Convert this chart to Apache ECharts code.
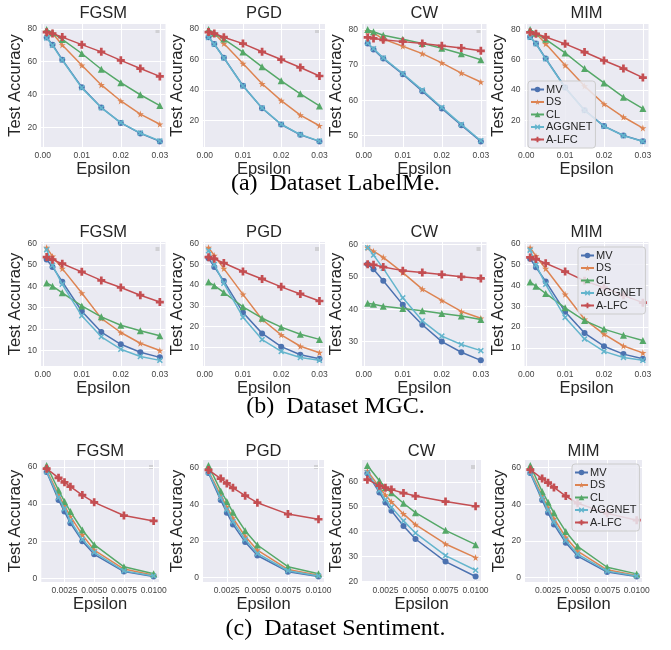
<!DOCTYPE html>
<html>
<head>
<meta charset="utf-8">
<script src="https://cdn.jsdelivr.net/npm/echarts@6/dist/echarts.min.js"></script>
<style>
html,body{margin:0;padding:0;background:#fff;}
#chart{width:671px;height:650px;}
</style>
</head>
<body>
<div id="chart"></div>
<script>
// ---------------- DATA ----------------
const METHODS = ['MV', 'DS', 'CL', 'AGGNET', 'A-LFC'];
const ATTACKS = ['FGSM', 'PGD', 'CW', 'MIM'];
const CAPTIONS = ['(a)  Dataset LabelMe.', '(b)  Dataset MGC.', '(c)  Dataset Sentiment.'];

const EPS_LM = [0.001, 0.0025, 0.005, 0.01, 0.015, 0.02, 0.025, 0.03];   // LabelMe & MGC
const EPS_SENT = [0.001, 0.002, 0.0025, 0.003, 0.004, 0.005, 0.0075, 0.01]; // Sentiment

const X_TICKS_LM = [0, 0.01, 0.02, 0.03];
const X_TICKS_SENT = [0.0025, 0.005, 0.0075, 0.01];

// LabelMe
const LM_FGSM_MV = [74.8, 70.4, 61.2, 44.4, 32.0, 22.6, 16.2, 11.3];
const LM_FGSM_DS = [78.5, 77.4, 70.2, 57.8, 45.8, 36.0, 28.0, 21.8];
const LM_FGSM_CL = [79.6, 77.6, 73.6, 65.0, 55.4, 47.2, 39.8, 33.2];
const LM_FGSM_AGG = [74.5, 70.0, 61.0, 44.0, 31.8, 22.8, 16.4, 11.6];
const LM_FGSM_ALFC = [78.0, 77.2, 75.0, 70.4, 66.0, 60.8, 55.8, 51.0];

const LM_PGD_MV = [74.6, 70.1, 61.1, 42.7, 27.9, 17.2, 10.4, 6.1];
const LM_PGD_DS = [78.0, 77.2, 70.4, 57.3, 44.0, 32.9, 23.4, 16.4];
const LM_PGD_CL = [79.6, 77.2, 73.4, 64.8, 55.1, 45.9, 37.4, 29.4];
const LM_PGD_AGG = [74.4, 70.0, 61.0, 42.5, 28.1, 17.4, 10.6, 6.3];
const LM_PGD_ALFC = [78.0, 77.0, 74.6, 70.4, 65.0, 59.9, 54.7, 49.1];

const LM_CW_MV = [76.1, 74.4, 71.8, 67.4, 62.6, 57.7, 53.0, 48.4];
const LM_CW_DS = [79.6, 79.1, 77.3, 75.3, 73.2, 70.6, 67.7, 65.2];
const LM_CW_CL = [80.0, 79.4, 78.4, 77.3, 76.1, 74.7, 73.2, 71.5];
const LM_CW_AGG = [76.2, 74.6, 72.0, 67.6, 62.9, 58.0, 53.2, 48.6];
const LM_CW_ALFC = [77.8, 77.5, 77.1, 76.6, 76.1, 75.4, 74.8, 74.0];

const LM_MIM_MV = [74.9, 70.6, 60.7, 41.6, 26.6, 16.1, 9.9, 6.1];
const LM_MIM_DS = [78.0, 77.2, 70.4, 56.2, 42.5, 30.7, 22.1, 14.8];
const LM_MIM_CL = [79.8, 77.4, 73.4, 64.4, 54.1, 44.6, 35.2, 27.7];
const LM_MIM_AGG = [74.7, 70.4, 60.5, 41.4, 26.4, 16.0, 9.8, 6.0];
const LM_MIM_ALFC = [78.0, 77.0, 74.9, 70.4, 65.0, 59.4, 54.1, 48.1];

// MGC
const MGC_FGSM_MV = [52.5, 49.0, 42.1, 28.3, 18.6, 12.9, 9.2, 6.8];
const MGC_FGSM_DS = [58.0, 53.9, 48.2, 36.8, 25.0, 18.4, 13.4, 10.0];
const MGC_FGSM_CL = [41.5, 40.0, 36.9, 30.8, 25.7, 21.8, 19.2, 16.9];
const MGC_FGSM_AGG = [57.0, 49.8, 40.9, 26.2, 16.4, 10.6, 7.2, 5.4];
const MGC_FGSM_ALFC = [53.6, 52.4, 50.5, 46.7, 42.7, 39.4, 35.8, 32.6];

const MGC_PGD_MV = [52.9, 48.7, 41.9, 26.8, 16.7, 10.3, 6.4, 4.5];
const MGC_PGD_DS = [58.0, 54.2, 47.9, 35.5, 23.4, 16.0, 10.5, 7.4];
const MGC_PGD_CL = [41.4, 39.7, 36.4, 29.5, 24.0, 19.7, 16.3, 13.8];
const MGC_PGD_AGG = [56.5, 49.9, 40.8, 24.5, 13.7, 8.0, 5.1, 3.7];
const MGC_PGD_ALFC = [53.4, 52.6, 50.6, 46.5, 42.9, 39.1, 35.7, 32.3];

const MGC_CW_MV = [53.9, 52.3, 48.8, 41.4, 35.2, 30.0, 26.7, 24.2];
const MGC_CW_DS = [59.0, 57.9, 56.0, 51.3, 46.2, 42.7, 39.3, 37.2];
const MGC_CW_CL = [41.8, 41.5, 40.9, 40.2, 39.5, 38.7, 37.9, 36.8];
const MGC_CW_AGG = [59.0, 56.7, 52.6, 43.5, 36.4, 31.7, 29.1, 27.2];
const MGC_CW_ALFC = [53.9, 53.7, 53.0, 51.9, 51.3, 50.7, 50.0, 49.5];

const MGC_MIM_MV = [52.8, 48.7, 41.9, 27.3, 17.1, 10.8, 7.0, 4.8];
const MGC_MIM_DS = [58.1, 54.0, 48.0, 35.7, 23.7, 16.6, 10.9, 7.6];
const MGC_MIM_CL = [41.6, 39.6, 36.1, 29.2, 23.1, 19.0, 16.1, 13.5];
const MGC_MIM_AGG = [56.9, 49.8, 40.5, 24.6, 14.3, 8.3, 5.4, 4.0];
const MGC_MIM_ALFC = [53.4, 52.6, 50.6, 46.6, 42.2, 38.9, 35.2, 31.7];

// Sentiment
const SENT_FGSM_MV = [57.2, 42.2, 35.9, 29.7, 20.0, 12.9, 3.6, 1.0];
const SENT_FGSM_DS = [58.1, 45.0, 39.0, 33.3, 23.4, 15.2, 5.0, 1.7];
const SENT_FGSM_CL = [60.7, 47.4, 41.4, 35.9, 26.0, 18.1, 6.2, 2.4];
const SENT_FGSM_AGG = [57.5, 43.5, 37.5, 31.0, 21.0, 14.0, 4.0, 1.3];
const SENT_FGSM_ALFC = [59.0, 54.1, 51.7, 49.3, 44.8, 40.9, 33.8, 30.9];

const SENT_PGD_MV = [56.9, 42.2, 35.4, 29.0, 19.4, 12.1, 3.3, 0.7];
const SENT_PGD_DS = [58.0, 44.8, 38.5, 32.5, 22.5, 15.0, 4.5, 1.3];
const SENT_PGD_CL = [61.0, 47.2, 41.5, 35.6, 25.6, 17.8, 6.0, 2.2];
const SENT_PGD_AGG = [57.3, 43.5, 37.0, 30.5, 20.8, 13.2, 3.8, 1.0];
const SENT_PGD_ALFC = [58.6, 53.9, 51.3, 48.9, 44.6, 40.8, 34.6, 31.8];

const SENT_CW_MV = [63.5, 55.7, 51.7, 48.4, 42.2, 37.0, 27.9, 21.9];
const SENT_CW_DS = [64.4, 57.9, 54.7, 52.0, 47.1, 42.8, 35.0, 29.5];
const SENT_CW_CL = [66.6, 60.5, 57.8, 55.6, 51.4, 47.6, 40.5, 34.7];
const SENT_CW_AGG = [63.7, 56.6, 52.8, 49.8, 44.3, 39.4, 30.3, 24.4];
const SENT_CW_ALFC = [60.9, 58.5, 57.7, 56.9, 55.5, 54.3, 52.1, 50.2];

const SENT_MIM_MV = [56.9, 42.2, 35.3, 29.0, 19.0, 11.8, 3.1, 0.7];
const SENT_MIM_DS = [58.0, 44.5, 38.2, 32.2, 22.0, 14.5, 4.3, 1.2];
const SENT_MIM_CL = [61.0, 46.9, 41.1, 35.3, 25.1, 17.1, 5.7, 2.1];
const SENT_MIM_AGG = [57.2, 43.2, 36.8, 30.3, 20.3, 12.8, 3.6, 0.9];
const SENT_MIM_ALFC = [58.8, 53.9, 51.7, 49.1, 44.4, 40.5, 35.0, 31.3];

// y tick values per panel
const Y_TICKS = [
  [20, 40, 60, 80], [20, 40, 60, 80], [50, 60, 70, 80], [20, 40, 60, 80],
  [10, 20, 30, 40, 50, 60], [10, 20, 30, 40, 50, 60], [30, 40, 50, 60], [10, 20, 30, 40, 50, 60],
  [0, 20, 40, 60], [0, 20, 40, 60], [20, 30, 40, 50, 60], [0, 20, 40, 60]
];

// ---------------- STYLE / LAYOUT ----------------
const COLORS = ['#4C72B0', '#DD8452', '#55A868', '#64B5CD', '#C44E52'];
const SYMBOLS = [
  'circle',
  'path://M50,0 L61,35 L98,35 L68,57 L79,91 L50,70 L21,91 L32,57 L2,35 L39,35 Z',
  'triangle',
  'path://M0,18 L18,0 L50,32 L82,0 L100,18 L68,50 L100,82 L82,100 L50,68 L18,100 L0,82 L32,50 Z',
  'path://M33,0 H67 V33 H100 V67 H67 V100 H33 V67 H0 V33 H33 Z'
];
const SYMBOL_SIZES = [6, 7, 7, 6, 8];
const FONT = '"Liberation Sans", Arial, Helvetica, sans-serif';

const ROW_TOP = [24, 242, 460];
const ROW_H = [123, 124, 122];
const COL_LEFT = [[41, 203, 362, 524.5], [41, 203, 362, 524.5], [41.3, 203, 362, 525]];
const COL_W = [[124.5, 122, 124.5, 124], [124.5, 122, 124.5, 124], [117.7, 121, 119, 117]];
const TITLE_Y = [13, 232, 451];
const CAPTION_Y = [184, 407, 629];
const LEGEND_POS = [[528, 81], [578, 247], [572, 464]];

const PANEL_DATA = [
  [LM_FGSM_MV, LM_FGSM_DS, LM_FGSM_CL, LM_FGSM_AGG, LM_FGSM_ALFC],
  [LM_PGD_MV, LM_PGD_DS, LM_PGD_CL, LM_PGD_AGG, LM_PGD_ALFC],
  [LM_CW_MV, LM_CW_DS, LM_CW_CL, LM_CW_AGG, LM_CW_ALFC],
  [LM_MIM_MV, LM_MIM_DS, LM_MIM_CL, LM_MIM_AGG, LM_MIM_ALFC],
  [MGC_FGSM_MV, MGC_FGSM_DS, MGC_FGSM_CL, MGC_FGSM_AGG, MGC_FGSM_ALFC],
  [MGC_PGD_MV, MGC_PGD_DS, MGC_PGD_CL, MGC_PGD_AGG, MGC_PGD_ALFC],
  [MGC_CW_MV, MGC_CW_DS, MGC_CW_CL, MGC_CW_AGG, MGC_CW_ALFC],
  [MGC_MIM_MV, MGC_MIM_DS, MGC_MIM_CL, MGC_MIM_AGG, MGC_MIM_ALFC],
  [SENT_FGSM_MV, SENT_FGSM_DS, SENT_FGSM_CL, SENT_FGSM_AGG, SENT_FGSM_ALFC],
  [SENT_PGD_MV, SENT_PGD_DS, SENT_PGD_CL, SENT_PGD_AGG, SENT_PGD_ALFC],
  [SENT_CW_MV, SENT_CW_DS, SENT_CW_CL, SENT_CW_AGG, SENT_CW_ALFC],
  [SENT_MIM_MV, SENT_MIM_DS, SENT_MIM_CL, SENT_MIM_AGG, SENT_MIM_ALFC]
];

// ---------------- BUILD ----------------
const grids = [], xAxes = [], yAxes = [], series = [], graphics = [], legends = [];

function margins(vals) {
  const lo = Math.min.apply(null, vals), hi = Math.max.apply(null, vals);
  const m = (hi - lo) * 0.05;
  return [lo - m, hi + m];
}

for (let r = 0; r < 3; r++) {
  const eps = r < 2 ? EPS_LM : EPS_SENT;
  const xt = r < 2 ? X_TICKS_LM : X_TICKS_SENT;
  const dec = r < 2 ? 2 : 4;
  const [xmin, xmax] = margins(eps);
  for (let c = 0; c < 4; c++) {
    const i = r * 4 + c;
    const left = COL_LEFT[r][c], w = COL_W[r][c], top = ROW_TOP[r], h = ROW_H[r];
    grids.push({ left: left, top: top, width: w, height: h, show: true,
      backgroundColor: '#EAEAF2', borderWidth: 0 });
    const all = [].concat.apply([], PANEL_DATA[i]);
    const [ymin, ymax] = margins(all);
    xAxes.push({
      type: 'value', gridIndex: i, min: xmin, max: xmax,
      axisLine: { show: false },
      axisTick: { show: false, customValues: xt },
      axisLabel: { customValues: xt, formatter: v => v.toFixed(dec), fontSize: 8.5,
        color: '#444', fontFamily: FONT, margin: 4 },
      splitLine: { show: true, lineStyle: { color: '#ffffff', width: 1 } },
      name: 'Epsilon', nameLocation: 'middle', nameGap: 13,
      nameTextStyle: { fontSize: 16.5, color: '#262626', fontFamily: FONT }
    });
    yAxes.push({
      type: 'value', gridIndex: i, min: ymin, max: ymax,
      axisLine: { show: false },
      axisTick: { show: false, customValues: Y_TICKS[i] },
      axisLabel: { customValues: Y_TICKS[i], fontSize: 8.5, color: '#444',
        fontFamily: FONT, margin: 4 },
      splitLine: { show: true, lineStyle: { color: '#ffffff', width: 1 } },
      name: 'Test Accuracy', nameLocation: 'middle', nameGap: 14, nameRotate: 90,
      nameTextStyle: { fontSize: 16.5, color: '#262626', fontFamily: FONT }
    });
    PANEL_DATA[i].forEach((ys, k) => {
      series.push({
        type: 'line', name: METHODS[k], xAxisIndex: i, yAxisIndex: i,
        data: eps.map((x, j) => [x, ys[j]]),
        symbol: SYMBOLS[k], symbolSize: SYMBOL_SIZES[k], showAllSymbol: true,
        lineStyle: { color: COLORS[k], width: 1.5 },
        itemStyle: { color: COLORS[k] },
        z: 2 + k, animation: false, silent: true
      });
    });
    graphics.push({ type: 'text', x: left + w / 2, y: TITLE_Y[r],
      style: { text: ATTACKS[c], font: '16.5px ' + FONT, fill: '#262626',
        textAlign: 'center', textVerticalAlign: 'middle' } });
    if (c < 3) {
      graphics.push({ type: 'rect', shape: { x: left + w - 10, y: top + 5, width: 4, height: 4 },
        style: { fill: '#d0d0d4' } });
    }
  }
  graphics.push({ type: 'text', x: 335.5, y: CAPTION_Y[r],
    style: { text: CAPTIONS[r], font: '24px "Liberation Serif", "Times New Roman", serif',
      fill: '#000', textAlign: 'center', textVerticalAlign: 'middle' } });
  legends.push({
    data: METHODS, orient: 'vertical', left: LEGEND_POS[r][0], top: LEGEND_POS[r][1],
    itemWidth: 13, itemHeight: 7, itemGap: 1.5,
    padding: [3, 3, 3, 2], backgroundColor: 'rgba(234,234,242,0.85)',
    borderColor: '#cccccc', borderWidth: 1, borderRadius: 3,
    textStyle: { fontSize: 11, color: '#262626', fontFamily: FONT, padding: [0, 0, 0, -3] },
    selectedMode: false, z: 20
  });
}

const chart = echarts.init(document.getElementById('chart'), null, { renderer: 'canvas' });
chart.setOption({
  animation: false,
  backgroundColor: '#ffffff',
  grid: grids, xAxis: xAxes, yAxis: yAxes, series: series,
  legend: legends, graphic: { elements: graphics }
});
</script>
</body>
</html>
